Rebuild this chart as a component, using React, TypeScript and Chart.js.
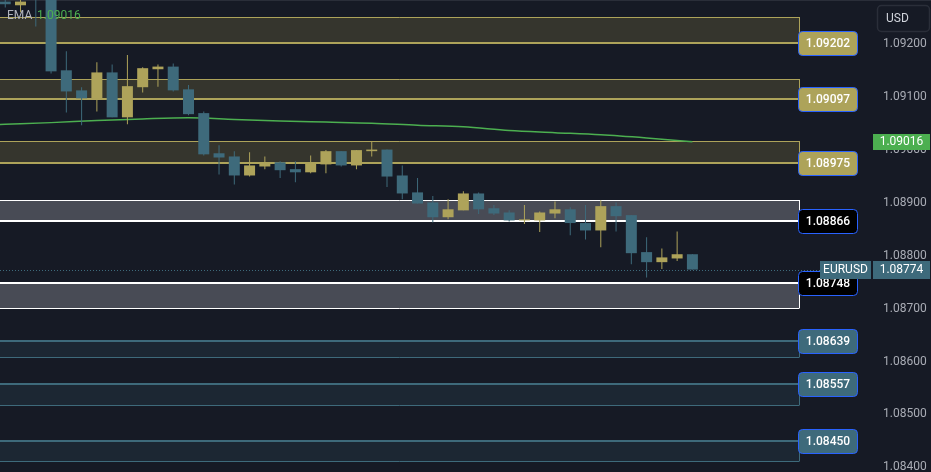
import React, { useEffect, useRef } from "react";
import { Chart, registerables } from "chart.js";

Chart.register(...registerables);

// ---- Data (EURUSD candles) ----
const opens = [
  1.09281, 1.09274, 1.09345, 1.093, 1.09151, 1.09113, 1.09098, 1.09147, 1.09062, 1.09119,
  1.09153, 1.09158, 1.09115, 1.0907, 1.08994, 1.08988, 1.08952, 1.08969, 1.08977, 1.08964,
  1.08958, 1.08973, 1.08998, 1.08971, 1.08998, 1.09001, 1.08952, 1.0892, 1.08901, 1.08873,
  1.08886, 1.08918, 1.0889, 1.08882, 1.08867, 1.08867, 1.0888, 1.08888, 1.08862, 1.08848,
  1.08894, 1.08877, 1.08807, 1.08788, 1.08795, 1.08803,
];
const highs = [
  1.0929, 1.0929, 1.0935, 1.09305, 1.09187, 1.09119, 1.09166, 1.09162, 1.0918, 1.09157,
  1.09162, 1.09164, 1.09123, 1.09073, 1.09009, 1.08998, 1.08996, 1.08988, 1.08979, 1.08979,
  1.0899, 1.09, 1.08998, 1.09, 1.09017, 1.09001, 1.08971, 1.08947, 1.08913, 1.08907,
  1.08922, 1.0892, 1.08896, 1.08886, 1.08896, 1.08884, 1.08903, 1.08892, 1.08896, 1.08905,
  1.08901, 1.08877, 1.08835, 1.08814, 1.08846, 1.08803,
];
const lows = [
  1.0927, 1.09261, 1.09234, 1.09145, 1.09071, 1.09047, 1.09073, 1.09062, 1.09049, 1.09109,
  1.0912, 1.09111, 1.09066, 1.0899, 1.08954, 1.08935, 1.0895, 1.08964, 1.08947, 1.08939,
  1.08956, 1.08956, 1.08969, 1.08964, 1.08988, 1.0893, 1.08907, 1.08899, 1.08863, 1.08869,
  1.08886, 1.08879, 1.08877, 1.08865, 1.0886, 1.08845, 1.08871, 1.08839, 1.08831, 1.08816,
  1.08846, 1.08784, 1.08759, 1.08775, 1.0879, 1.08774,
];
const closes = [
  1.09276, 1.09281, 1.093, 1.09149, 1.09111, 1.09098, 1.09147, 1.09062, 1.09121, 1.09155,
  1.09158, 1.09113, 1.09068, 1.08992, 1.08986, 1.08952, 1.08971, 1.08977, 1.08962, 1.08958,
  1.08977, 1.08998, 1.08971, 1.09, 1.09001, 1.0895, 1.08918, 1.08899, 1.08873, 1.08888,
  1.08918, 1.08888, 1.0888, 1.08867, 1.08869, 1.08882, 1.08888, 1.08862, 1.08848, 1.08894,
  1.08875, 1.08805, 1.08788, 1.08797, 1.08803, 1.08774,
];

// EMA line (sampled at candle indices)
const emaIndex = [-1, 0, 3, 6, 9, 12, 15, 18, 21, 24, 27, 30, 33, 36, 39, 42, 45];
const emaValues = [
  1.09048, 1.09049, 1.09052, 1.09056, 1.09059, 1.09061, 1.09058, 1.09055, 1.09053, 1.09051,
  1.09047, 1.09044, 1.09037, 1.09033, 1.09029, 1.09023, 1.09016,
];

// Support / resistance zones
const zoneLevels = [1.09202, 1.09097, 1.08975, 1.08866, 1.08748, 1.08639, 1.08557, 1.0845];
const zoneEdges = [1.09252, 1.09134, 1.09018, 1.08905, 1.08702, 1.08608, 1.08517, 1.08411];
const zoneKinds = ["gold", "gold", "gold", "white", "white", "teal", "teal", "teal"];
const zoneEndIndex = 52;

const symbolName = "EURUSD";
const currencyName = "USD";
const emaName = "EMA";
const lastPrice = 1.08774;
const lastEma = 1.09016;

const yMin = 1.08391;
const yMax = 1.09284;
const yStep = 0.001;
const xMin = -0.344;
const xMax = 56.63;

// ---- Styles ----
const BG = "#161a25";
const UP = "#aea35a";
const DOWN = "#3e6a7b";
const EMA_COLOR = "#4caf50";
const AXIS_TEXT = "#a9acb5";
const FONT = "Roboto, 'Noto Sans', sans-serif";

const zoneStyle: Record<string, { fill: string; line: string; tag: string }> = {
  gold: { fill: "#35352d", line: "#ada35a", tag: "#ada35a" },
  white: { fill: "#484b55", line: "#ffffff", tag: "#000000" },
  teal: { fill: "#1c2733", line: "#3e6a7b", tag: "#3e6a7b" },
};

const candleColors = closes.map((c, i) => (c >= opens[i] ? UP : DOWN));

const overlayPlugin = {
  id: "tvOverlay",
  beforeDraw(chart: any) {
    const { ctx, width, height } = chart;
    ctx.save();
    ctx.fillStyle = BG;
    ctx.fillRect(0, 0, width, height);
    ctx.restore();
  },
  beforeDatasetsDraw(chart: any) {
    const { ctx, chartArea } = chart;
    const xs = chart.scales.x;
    const ys = chart.scales.y;
    ctx.save();
    ctx.fillStyle = "#2a2e39";
    ctx.fillRect(0, 0, chart.width, 1);
    const x0 = chartArea.left;
    const x1 = Math.round(xs.getPixelForValue(zoneEndIndex)) + 0.5;
    zoneLevels.forEach((lv, i) => {
      const st = zoneStyle[zoneKinds[i]];
      const yl = Math.round(ys.getPixelForValue(lv));
      const ye = Math.round(ys.getPixelForValue(zoneEdges[i]));
      const top = Math.min(yl, ye);
      const bot = Math.max(yl, ye);
      ctx.fillStyle = st.fill;
      ctx.fillRect(x0, top, x1 - x0, bot - top);
      ctx.strokeStyle = st.line;
      ctx.lineWidth = 1;
      ctx.beginPath();
      ctx.moveTo(x0, ye + 0.5);
      ctx.lineTo(x1, ye + 0.5);
      ctx.moveTo(x1, top);
      ctx.lineTo(x1, bot);
      ctx.stroke();
      ctx.lineWidth = 2;
      ctx.beginPath();
      ctx.moveTo(x0, yl);
      ctx.lineTo(x1, yl);
      ctx.stroke();
    });
    ctx.restore();
  },
  afterDatasetsDraw(chart: any) {
    const { ctx, chartArea } = chart;
    const ys = chart.scales.y;
    const y = Math.round(ys.getPixelForValue(lastPrice)) + 0.5;
    ctx.save();
    ctx.strokeStyle = DOWN;
    ctx.lineWidth = 1;
    ctx.setLineDash([1, 2]);
    ctx.beginPath();
    ctx.moveTo(chartArea.left, y);
    ctx.lineTo(chartArea.right - 50, y);
    ctx.stroke();
    ctx.restore();
  },
  afterDraw(chart: any) {
    const { ctx, chartArea } = chart;
    const xs = chart.scales.x;
    const ys = chart.scales.y;
    const R = chartArea.right;
    ctx.save();
    ctx.textBaseline = "middle";

    // zone tags
    const tagX = Math.round(xs.getPixelForValue(zoneEndIndex)) - 1;
    zoneLevels.forEach((lv, i) => {
      const st = zoneStyle[zoneKinds[i]];
      const yc = ys.getPixelForValue(lv);
      ctx.beginPath();
      ctx.roundRect(tagX + 0.5, Math.round(yc - 12) + 0.5, 59, 24, 4);
      ctx.fillStyle = st.tag;
      ctx.fill();
      ctx.strokeStyle = "#2962ff";
      ctx.lineWidth = 1;
      ctx.stroke();
      ctx.fillStyle = "#ffffff";
      ctx.font = `500 12px ${FONT}`;
      ctx.textAlign = "center";
      ctx.fillText(lv.toFixed(5), tagX + 30, yc + 1);
    });

    // EMA value tag on axis
    const ey = ys.getPixelForValue(lastEma);
    ctx.fillStyle = EMA_COLOR;
    ctx.fillRect(R + 3, Math.round(ey - 8), 57, 16);
    ctx.fillStyle = "#ffffff";
    ctx.textAlign = "center";
    ctx.font = `12px ${FONT}`;
    ctx.fillText(lastEma.toFixed(5), R + 31.5, ey + 0.5);

    // last price tags
    const py = ys.getPixelForValue(lastPrice);
    ctx.fillStyle = DOWN;
    ctx.fillRect(R - 50, Math.round(py - 9), 51, 18);
    ctx.fillRect(R + 3, Math.round(py - 9), 57, 18);
    ctx.fillStyle = "#ffffff";
    ctx.fillText(symbolName, R - 24.5, py + 0.5);
    ctx.fillText(lastPrice.toFixed(5), R + 31.5, py + 0.5);

    // currency box
    ctx.beginPath();
    ctx.roundRect(R + 7.5, 5.5, 52, 26, 4);
    ctx.strokeStyle = "#2a2e39";
    ctx.lineWidth = 1.5;
    ctx.stroke();
    ctx.fillStyle = "#d1d4dc";
    ctx.textAlign = "left";
    ctx.fillText(currencyName, R + 16, 18.5);

    // legend
    ctx.font = `12px ${FONT}`;
    ctx.fillStyle = "#b2b5be";
    ctx.fillText(emaName, 7, 16);
    ctx.fillStyle = EMA_COLOR;
    ctx.fillText(lastEma.toFixed(5), 37, 16);
    ctx.restore();
  },
};

export default function App() {
  const ref = useRef<HTMLCanvasElement | null>(null);
  useEffect(() => {
    if (!ref.current) return;
    const chart = new Chart(ref.current, {
      type: "bar",
      data: {
        datasets: [
          {
            type: "line",
            data: emaIndex.map((x, k) => ({ x, y: emaValues[k] })),
            borderColor: EMA_COLOR,
            borderWidth: 1.5,
            pointRadius: 0,
            cubicInterpolationMode: "monotone",
            order: 3,
          } as any,
          {
            type: "bar",
            data: opens.map((_, i) => ({ x: i, y: [lows[i], highs[i]] })),
            backgroundColor: candleColors,
            borderWidth: 0,
            grouped: false,
            maxBarThickness: 1,
            order: 2,
          } as any,
          {
            type: "bar",
            data: opens.map((o, i) => ({ x: i, y: [o, closes[i]] })),
            backgroundColor: candleColors,
            borderWidth: 0,
            grouped: false,
            maxBarThickness: 11,
            minBarLength: 1,
            order: 1,
          } as any,
        ],
      },
      options: {
        animation: false,
        responsive: false,
        maintainAspectRatio: false,
        layout: { padding: 0 },
        plugins: { legend: { display: false }, tooltip: { enabled: false } },
        scales: {
          x: {
            type: "linear",
            display: false,
            min: xMin,
            max: xMax,
            offset: false,
            grid: { display: false },
          },
          y: {
            position: "right",
            min: yMin,
            max: yMax,
            grid: { display: false, drawTicks: false },
            border: { display: false },
            ticks: {
              stepSize: yStep,
              includeBounds: false,
              padding: 13,
              color: AXIS_TEXT,
              font: { family: FONT, size: 12 },
              callback: (v: any) => Number(v).toFixed(5),
            },
            afterFit: (s: any) => {
              s.width = 61;
              s.paddingTop = 0;
              s.paddingBottom = 0;
            },
          },
        },
      } as any,
      plugins: [overlayPlugin],
    });
    return () => chart.destroy();
  }, []);
  return (
    <div style={{ position: "fixed", left: 0, top: 0, width: 931, height: 472, background: BG }}>
      <canvas ref={ref} width={931} height={472} style={{ display: "block" }} />
    </div>
  );
}
